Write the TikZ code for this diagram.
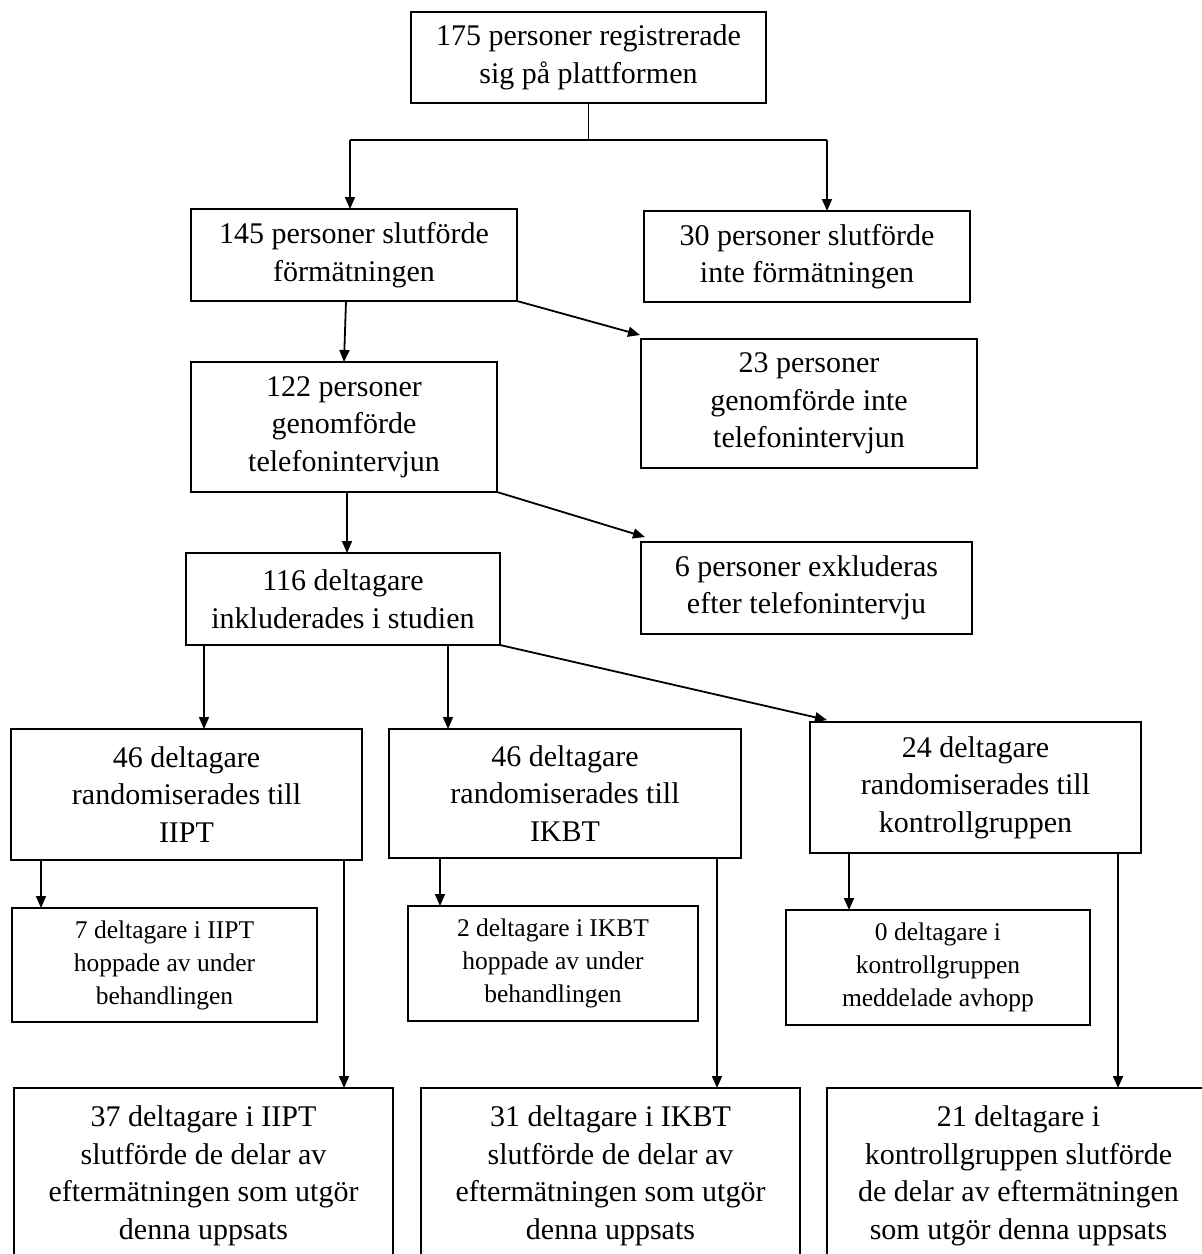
\documentclass[tikz,border=0pt]{standalone}
\usepackage{fontspec}
\setmainfont{Liberation Serif}
\usetikzlibrary{arrows.meta,calc}
\tikzset{
  box/.style={draw=black, line width=0.9pt, inner sep=0pt, outer sep=0pt, align=center,
    font=\fontsize{15pt}{18.75pt}\selectfont},
  smallbox/.style={box, font=\fontsize{12.75pt}{16.5pt}\selectfont},
  arr/.style={draw=black, line width=0.9pt, -{Triangle[length=6pt,width=5pt]}},
  ln/.style={draw=black, line width=0.9pt},
}
\newcommand\bx[7]{\node[#1, minimum width=#5*0.5pt, minimum height=#6*0.5pt] (#2) at (#3,#4) {#7};}
\begin{document}
\begin{tikzpicture}[x=0.5pt,y=-0.5pt]
\useasboundingbox (0,0) rectangle (1202,1254);
\clip (0,0) rectangle (1202,1254);
\bx{box}{top}{588.5}{57.5}{355}{91}{175 personer registrerade\\sig på plattformen}
\bx{box}{n145}{354}{255}{326}{92}{145 personer slutförde\\förmätningen}
\bx{box}{n30}{807}{256.5}{326}{91}{30 personer slutförde\\inte förmätningen}
\bx{box}{n122}{344}{427}{306}{130}{122 personer\\genomförde\\telefonintervjun}
\bx{box}{n23}{809}{403.5}{336}{129}{23 personer\\genomförde inte\\telefonintervjun}
\bx{box}{n116}{343}{599}{314}{92}{116 deltagare\\inkluderades i studien}
\bx{box}{n6}{806.5}{588}{331}{92}{6 personer exkluderas\\efter telefonintervju}
\bx{box}{nIIPT}{186.5}{794.5}{351}{131}{46 deltagare\\randomiserades till\\IIPT}
\bx{box}{nIKBT}{565}{793.5}{352}{129}{46 deltagare\\randomiserades till\\IKBT}
\bx{box}{n24}{975.5}{787.5}{331}{131}{24 deltagare\\randomiserades till\\kontrollgruppen}
\bx{smallbox}{n7}{164.5}{965}{305}{114}{7 deltagare i IIPT\\hoppade av under\\behandlingen}
\bx{smallbox}{n2}{553}{963.5}{290}{115}{2 deltagare i IKBT\\hoppade av under\\behandlingen}
\bx{smallbox}{n0}{938}{967.5}{304}{115}{0 deltagare i\\kontrollgruppen\\meddelade avhopp}
\bx{box}{n37}{203.5}{1176}{379}{176}{37 deltagare i IIPT\\slutförde de delar av\\eftermätningen som utgör\\denna uppsats}
\bx{box}{n31}{610.5}{1176}{379}{176}{31 deltagare i IKBT\\slutförde de delar av\\eftermätningen som utgör\\denna uppsats}
\bx{box}{n21}{1018.5}{1176}{383}{176}{21 deltagare i\\kontrollgruppen slutförde\\de delar av eftermätningen\\som utgör denna uppsats}
% connectors
\coordinate (aL) at (350,140);
\coordinate (aR) at (827,140);
\draw[ln] (top.south) |- (aL);
\draw[ln] (top.south) |- (aR);
\draw[arr] (aL) -- (aL |- n145.north);
\draw[arr] (aR) -- (aR |- n30.north);
\draw[arr] ($(n145.south)+(-8,0)$) -- (n122.north);
\draw[arr] (n145.south east) -- ($(n23.north west)+(-1,-4)$);
\draw[arr] ($(n122.south)+(3,0)$) -- ($(n116.north)+(4,0)$);
\draw[arr] (n122.south east) -- ($(n6.north west)+(4,-5)$);
\coordinate (c1) at (204,0);
\coordinate (c2) at (448,0);
\draw[arr] (c1 |- n116.south) -- (c1 |- nIIPT.north);
\draw[arr] (c2 |- n116.south) -- (c2 |- nIKBT.north);
\draw[arr] (n116.south east) -- ($(n24.north west)+(17,-2)$);
\coordinate (d1) at (41,0);
\coordinate (d2) at (344,0);
\coordinate (d3) at (440,0);
\coordinate (d4) at (717,0);
\coordinate (d5) at (849,0);
\coordinate (d6) at (1118,0);
\draw[arr] (d1 |- nIIPT.south) -- (d1 |- n7.north);
\draw[arr] (d2 |- nIIPT.south) -- (d2 |- n37.north);
\draw[arr] (d3 |- nIKBT.south) -- (d3 |- n2.north);
\draw[arr] (d4 |- nIKBT.south) -- (d4 |- n31.north);
\draw[arr] (d5 |- n24.south) -- (d5 |- n0.north);
\draw[arr] (d6 |- n24.south) -- (d6 |- n21.north);
\end{tikzpicture}
\end{document}
